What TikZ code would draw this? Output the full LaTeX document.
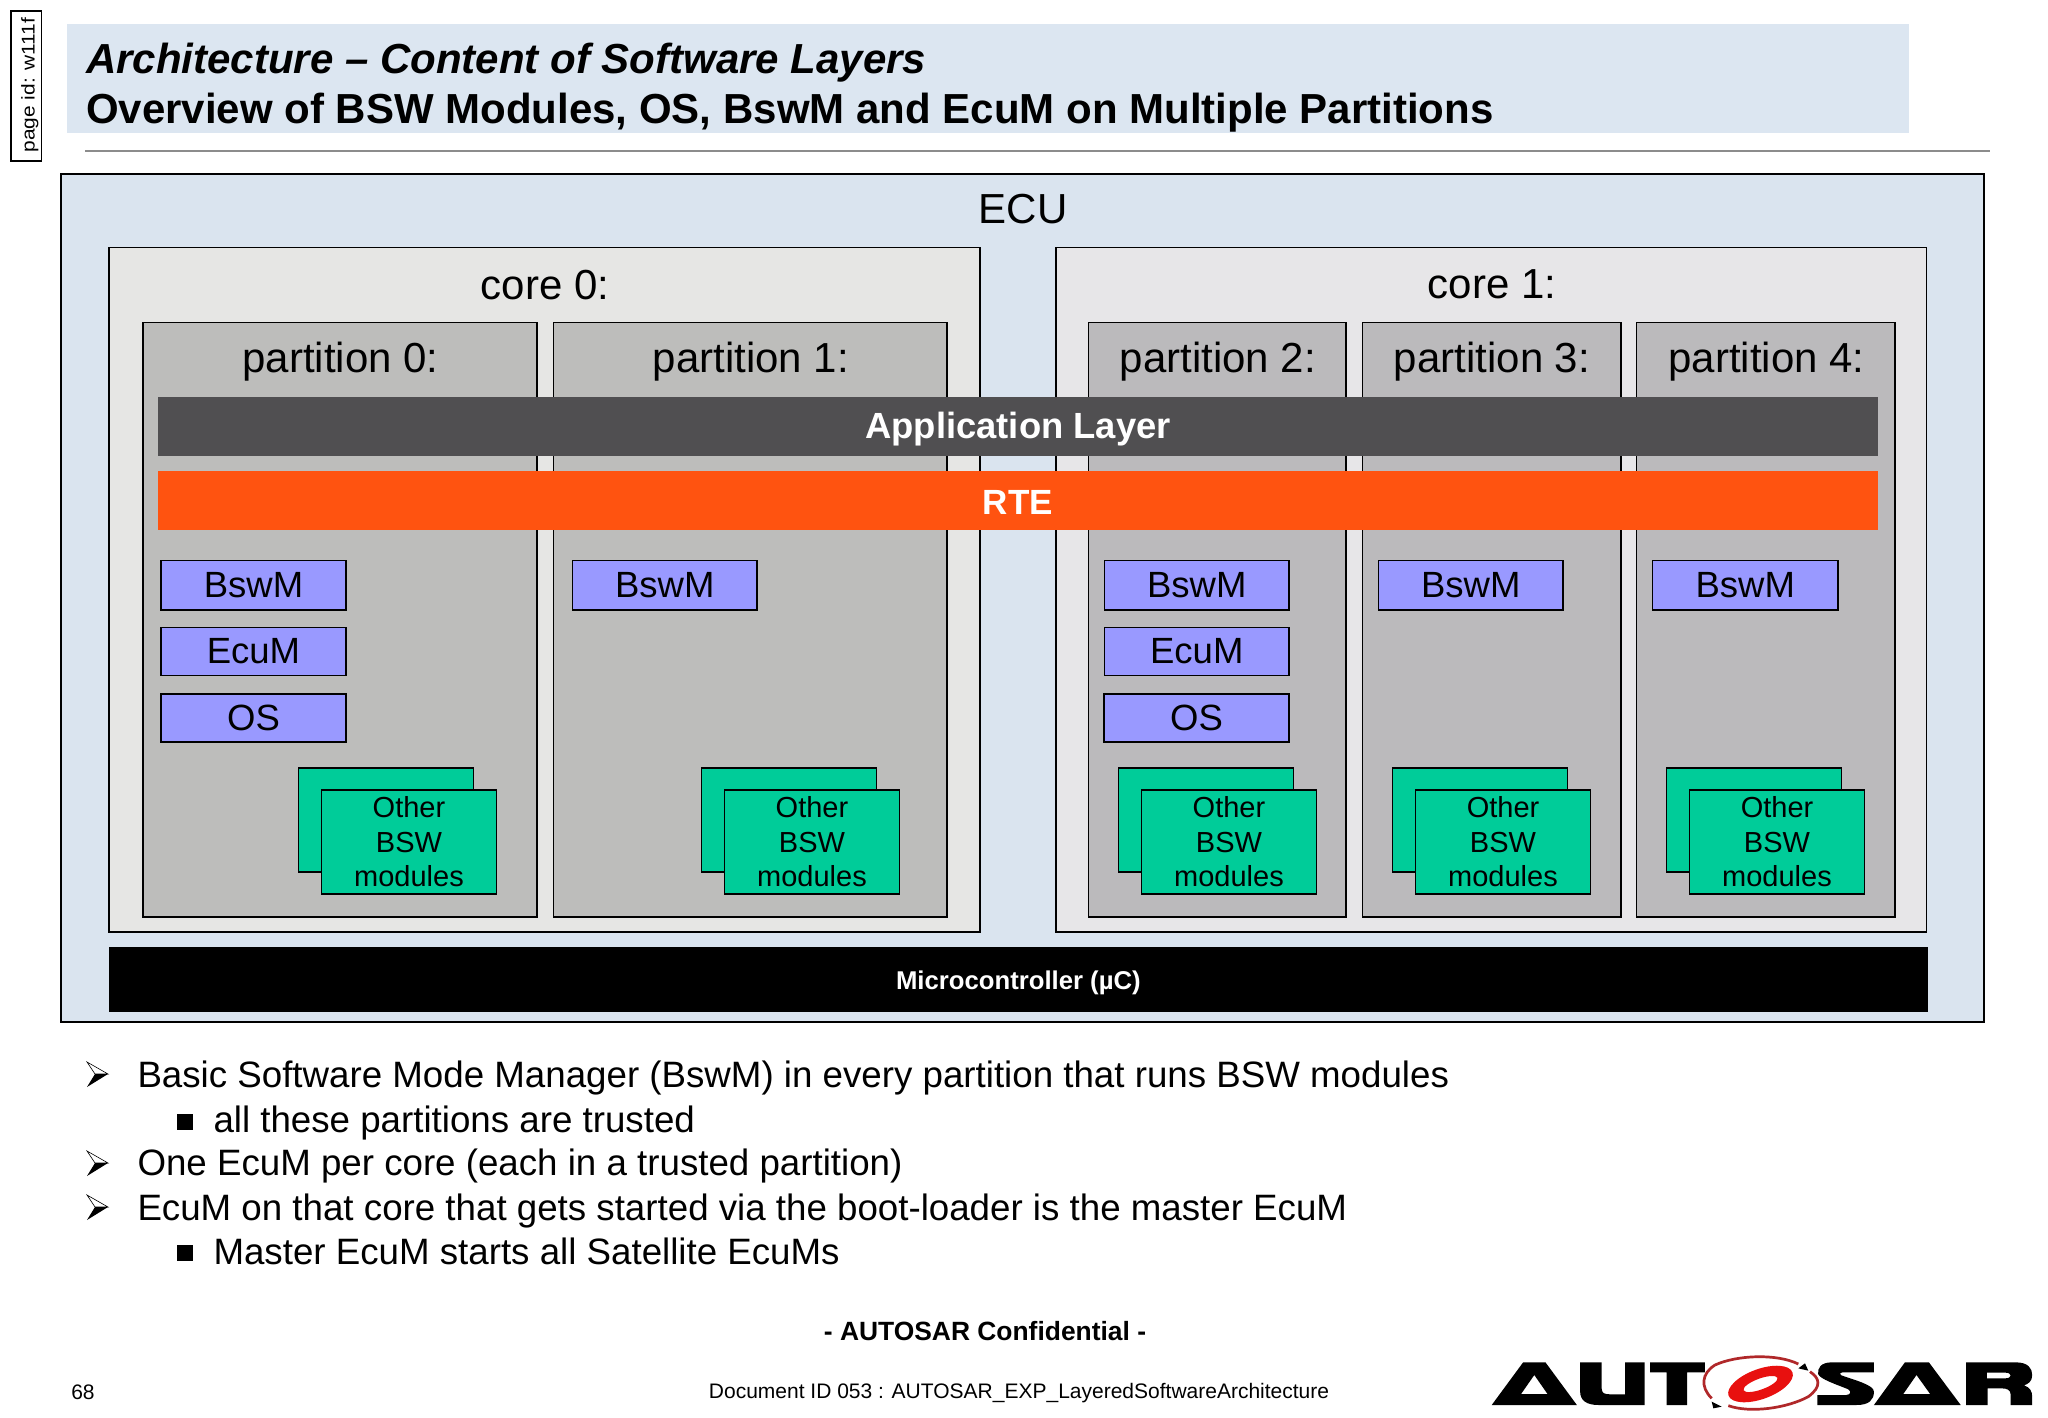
\documentclass[tikz,border=0pt]{standalone}
\usepackage{fontspec}
\setmainfont{Liberation Sans}
\definecolor{band}{HTML}{DCE6F1}
\definecolor{ecubg}{HTML}{DAE4EF}
\definecolor{coreA}{HTML}{E6E6E4}
\definecolor{coreB}{HTML}{E7E6E8}
\definecolor{partA}{HTML}{BDBDBB}
\definecolor{partB}{HTML}{BBBABC}
\definecolor{applayer}{HTML}{504F51}
\definecolor{rte}{HTML}{FF5310}
\definecolor{bsw}{HTML}{9999FF}
\definecolor{other}{HTML}{00CC99}
\definecolor{rule}{HTML}{8C8C8C}
\definecolor{autred}{HTML}{E8100F}
\definecolor{autdark}{HTML}{B0282A}
\newcommand{\fsz}[2]{\fontsize{#1}{#2}\selectfont}
\newcommand{\rbox}[7]{%
  \pgfmathsetmacro{\rw}{(#5)-(#3)}\pgfmathsetmacro{\rh}{(#6)-(#4)}%
  \node[#2,anchor=north west,minimum width=\rw pt,minimum height=\rh pt] (#1) at (#3,#4) {#7};}
\newcommand{\others}[3]{%
  \rbox{#1b}{otherbox}{#2}{#3}{#2+175}{#3+104}{}
  \rbox{#1f}{otherbox,font=\fsz{29}{34.6}}{#2+23}{#3+22}{#2+198}{#3+126}{Other\\BSW\\modules}}
\tikzset{
  box/.style={draw=black,inner sep=0pt,outer sep=0pt,line width=1.6pt,align=center},
  ecu/.style={box,fill=ecubg,line width=2pt},
  coreAs/.style={box,fill=coreA},
  coreBs/.style={box,fill=coreB},
  partAs/.style={box,fill=partA},
  partBs/.style={box,fill=partB},
  module/.style={box,fill=bsw,font=\fsz{36.5}{40},line width=1.3pt},
  otherbox/.style={box,fill=other,line width=1.3pt},
  bar/.style={inner sep=0pt,outer sep=0pt,text=white,align=center,text depth=0pt},
  heading/.style={inner sep=0pt,outer sep=0pt,font=\fsz{42}{46}},
  bulletlabel/.style={inner sep=0pt,outer sep=0pt,anchor=base west,font=\fsz{36.7}{40}},
  foot/.style={inner sep=0pt,outer sep=0pt,font=\fsz{21}{24}},
  arrowbul/.pic={
    \draw[black,line width=.6pt,fill=white] (-8,-12) -- (13,0) -- (0,0) -- cycle;
    \fill[black] (13,0) -- (-8,13) -- (0,0) -- cycle;
  },
  squarebul/.pic={\fill[black] (-8,-8) rectangle (8,8);}
}
\begin{document}
\begin{tikzpicture}[x=1pt,y=-1pt]
\useasboundingbox (0,0) rectangle (2048,1418);
\fill[white] (0,0) rectangle (2048,1418);
% header
\rbox{pageid}{draw=black,inner sep=0pt,outer sep=0pt,line width=1.5pt}{11}{11}{41.5}{161}{}
\node[rotate=90,anchor=base,inner sep=0pt,font=\fsz{18.5}{24}] (pageidtext) at (34.5,85) {\scalebox{1.13}[1]{page id: w111f}};
\rbox{titleband}{fill=band,inner sep=0pt,outer sep=0pt}{67}{24}{1909}{133}{}
\node[anchor=base west,inner sep=0pt,font=\fsz{42}{46}\bfseries\itshape] (title1) at (86,74) {Architecture – Content of Software Layers};
\node[anchor=base west,inner sep=0pt,font=\fsz{42}{46}\bfseries] (title2) at (86,124) {Overview of BSW Modules, OS, BswM and EcuM on Multiple Partitions};
\coordinate (ruleL) at (85,151);
\coordinate (ruleR) at (1990,151);
\draw[rule,line width=1.5pt] (ruleL) -- (ruleR);
% ECU
\rbox{ecu}{ecu}{60.5}{174}{1984}{1022}{}
\node[heading] (ecutext) at (1023,209) {ECU};
\rbox{core0}{coreAs}{108.7}{247.5}{980}{932}{}
\rbox{core1}{coreBs}{1056}{247.5}{1926.5}{932}{}
\node[heading] (core0text) at (545,284.7) {core 0:};
\node[heading] (core1text) at (1492,284.7) {core 1:};
\rbox{part0}{partAs}{142.7}{322.5}{537}{917}{}
\rbox{part1}{partAs}{553.5}{322.5}{947}{917}{}
\rbox{part2}{partBs}{1088.5}{322.5}{1346}{917}{}
\rbox{part3}{partBs}{1362.5}{322.5}{1621}{917}{}
\rbox{part4}{partBs}{1636.5}{322.5}{1895}{917}{}
\node[heading] (p0text) at (340.5,362) {partition 0:};
\node[heading] (p1text) at (751,362) {partition 1:};
\node[heading] (p2text) at (1218,362) {partition 2:};
\node[heading] (p3text) at (1492,362) {partition 3:};
\node[heading] (p4text) at (1766.5,362) {partition 4:};
\rbox{applayerbar}{bar,fill=applayer,font=\fsz{36.4}{40}\bfseries,text height=23.6pt}{158}{397}{1878}{456}{Application Layer}
\rbox{rtebar}{bar,fill=rte,font=\fsz{35}{40}\bfseries,text height=27.5pt}{157.5}{471}{1878}{529.5}{RTE}
% modules
\rbox{bswm0}{module}{161}{560.5}{346}{610}{BswM}
\rbox{ecum0}{module}{161}{627.5}{346}{675.5}{EcuM}
\rbox{os0}{module}{161}{694}{346}{742}{OS}
\rbox{bswm1}{module}{572.5}{560.5}{757}{610}{BswM}
\rbox{bswm2}{module}{1104.5}{560.5}{1289}{610}{BswM}
\rbox{ecum2}{module}{1104.5}{627.5}{1289}{675.5}{EcuM}
\rbox{os2}{module}{1104}{694}{1289}{742}{OS}
\rbox{bswm3}{module}{1378.5}{560.5}{1563}{610}{BswM}
\rbox{bswm4}{module}{1652.5}{560.5}{1838}{610}{BswM}
\others{oth0}{298.5}{768}
\others{oth1}{701.5}{768}
\others{oth2}{1118.5}{768}
\others{oth3}{1392.5}{768}
\others{oth4}{1666.5}{768}
\rbox{uc}{bar,fill=black,font=\fsz{25.7}{30}\bfseries,text height=19.6pt}{108.7}{947}{1928}{1012}{Microcontroller (µC)}
% bullets
\pic at (95,1074) {arrowbul};
\node[bulletlabel] (b1) at (137.5,1087) {Basic Software Mode Manager (BswM) in every partition that runs BSW modules};
\pic at (185,1122) {squarebul};
\node[bulletlabel] (b2) at (213.5,1132) {all these partitions are trusted};
\pic at (95,1163) {arrowbul};
\node[bulletlabel] (b3) at (137.5,1175) {One EcuM per core (each in a trusted partition)};
\pic at (95,1207) {arrowbul};
\node[bulletlabel] (b4) at (137.5,1220) {EcuM on that core that gets started via the boot-loader is the master EcuM};
\pic at (185,1253) {squarebul};
\node[bulletlabel] (b5) at (213.5,1264) {Master EcuM starts all Satellite EcuMs};
% footer
\node[inner sep=0pt,font=\fsz{26.4}{30}\bfseries] (conf) at (985,1331) {- AUTOSAR Confidential -};
\node[foot] (pagenum) at (83,1392) {68};
\node[foot] (docid) at (1019,1393) {Document ID 053 : AUTOSAR\_EXP\_LayeredSoftwareArchitecture};
% logo letters
\begin{scope}[shift={(1400,1300)},x=0.4132pt,y=-0.3333pt]
 \fill[black,even odd rule] (222,315)--(298,187)--(352,187)--(428,315)--cycle (325,225)--(293,282)--(357,282)--cycle;
 \fill[black] (436,187)--(488,187)--(488,265) .. controls (488,280) and (495,283) .. (510,283)--(545,283)--(545,187)--(592,187)--(592,315)--(480,315) .. controls (450,315) and (436,300) .. (436,275)--cycle;
 \fill[black] (605,187)--(738,187)--(738,217)--(695,217)--(695,315)--(645,315)--(645,217)--(605,217)--cycle;
 \fill[black] (1147,187)--(1045,187) .. controls (1018,187) and (1010,205) .. (1012,222) .. controls (1015,237) and (1060,255) .. (1085,268) .. controls (1092,274) and (1092,284) .. (1080,285)--(1010,285)--(1010,315)--(1105,315) .. controls (1135,315) and (1147,300) .. (1147,275) .. controls (1147,255) and (1100,240) .. (1068,226) .. controls (1062,220) and (1066,217) .. (1075,217)--(1147,217)--cycle;
 \fill[black,even odd rule] (1147,315)--(1222,187)--(1280,187)--(1357,315)--cycle (1250,225)--(1218,282)--(1283,282)--cycle;
 \fill[black,even odd rule] (1370,187)--(1490,187) .. controls (1520,187) and (1530,205) .. (1530,225) .. controls (1530,245) and (1520,252) .. (1510,256) .. controls (1525,262) and (1530,275) .. (1530,290)--(1530,315)--(1478,315)--(1478,285) .. controls (1478,270) and (1470,265) .. (1455,265)--(1422,265)--(1422,315)--(1370,315)--cycle
  (1420,218)--(1465,218) .. controls (1482,218) and (1482,235) .. (1465,235)--(1420,235)--cycle;
\end{scope}
% logo swirl
\begin{scope}[shift={(1700,1340)},x=0.3333pt,y=-0.3333pt]
 \draw[autdark,line width=2.7pt] (295,72) .. controls (230,40) and (110,45) .. (45,75) .. controls (5,100) and (0,140) .. (35,175);
 \draw[autdark,line width=2.7pt] (85,197) .. controls (150,220) and (260,205) .. (325,170) .. controls (365,140) and (360,115) .. (330,95);
 \fill[black] (295,85)--(315,70)--(325,92)--cycle;
 \fill[black] (35,185)--(65,200)--(40,205)--cycle;
\end{scope}
\begin{scope}[shift={(1760.5,1384)},rotate=20]
 \fill[autred,even odd rule] (0,0) ellipse [x radius=34,y radius=15] (0,0) ellipse [x radius=18,y radius=5.5];
\end{scope}
\end{tikzpicture}
\end{document}
